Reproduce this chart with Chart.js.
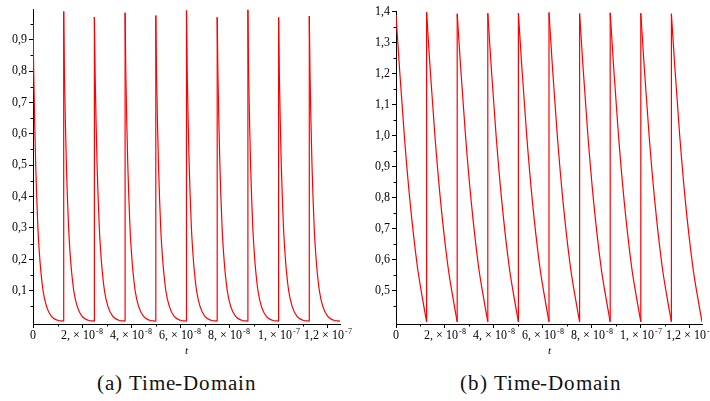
<!DOCTYPE html>
<html>
<head>
<meta charset="utf-8">
<script src="https://cdn.jsdelivr.net/npm/chart.js@4.4.0/dist/chart.umd.min.js"></script>
<style>
  @font-face { font-family: 'PlotSerif'; src: local('Liberation Serif'), local('LiberationSerif'), local('Liberation Serif Regular'); font-style: normal; }
  @font-face { font-family: 'PlotSerif'; src: local('Liberation Serif Italic'), local('LiberationSerif-Italic'); font-style: italic; }
  html, body { margin: 0; padding: 0; background: #fff; overflow: hidden; width: 710px; height: 401px; }
  .box { position: absolute; top: 0; height: 360px; }
  #boxA { left: 0; width: 355px; }
  #boxB { left: 362px; width: 348px; }
  .cap { position: absolute; top: 371px; width: 260px; text-align: center;
         font-family: 'PlotSerif', 'Liberation Serif', 'Times New Roman', serif;
         font-size: 21px; letter-spacing: 0.9px; color: #111; white-space: nowrap; }
</style>
</head>
<body>
<div class="box" id="boxA"><canvas id="chartA"></canvas></div>
<div class="box" id="boxB"><canvas id="chartB"></canvas></div>
<div class="cap" style="left:47px">(a) Time-Domain</div>
<div class="cap" style="left:411px">(b) Time-Domain</div>
<script>
// jump times (s): one every 1.25e-8
const cycleStarts = [0, 1.25e-8, 2.5e-8, 3.75e-8, 5e-8, 6.25e-8, 7.5e-8, 8.75e-8, 1e-7, 1.125e-7];

// (a) peak of each cycle, then the decay read from one cycle
const peaksA = [0.956, 0.99, 0.972, 0.986, 0.977, 0.993, 0.971, 0.995, 0.971, 0.975];
const offsetsA = [0.3e-9, 0.7e-9, 1.1e-9, 1.5e-9, 2.0e-9, 2.6e-9, 3.1e-9, 4.1e-9, 5.5e-9, 7.5e-9, 10e-9, 12.5e-9];
const valuesA = [0.79, 0.63, 0.50, 0.40, 0.30, 0.22, 0.17, 0.10, 0.05, 0.018, 0.006, 0.003];

// (b)
const peaksB = [1.389, 1.398, 1.393, 1.395, 1.395, 1.397, 1.394, 1.396, 1.395, 1.393];
const offsetsB = [1.5e-9, 3.4e-9, 5.7e-9, 8.7e-9, 10.6e-9, 12.5e-9];
const valuesB = [1.21, 1.00, 0.79, 0.58, 0.485, 0.40];

// ticks (x labels: mantissa part + raised exponent)
const xMajor = [0, 2e-8, 4e-8, 6e-8, 8e-8, 1e-7, 1.2e-7];
const xBase = ['0', '2, × 10', '4, × 10', '6, × 10', '8, × 10', '1, × 10', '1,2 × 10'];
const xExp = ['', '-8', '-8', '-8', '-8', '-7', '-7'];
const xMinor = [1e-8, 3e-8, 5e-8, 7e-8, 9e-8, 1.1e-7];

const yMajorA = [0.1, 0.2, 0.3, 0.4, 0.5, 0.6, 0.7, 0.8, 0.9];
const yLabelsA = ['0,1', '0,2', '0,3', '0,4', '0,5', '0,6', '0,7', '0,8', '0,9'];
const yMinorA = [0.05, 0.15, 0.25, 0.35, 0.45, 0.55, 0.65, 0.75, 0.85, 0.95];

const yMajorB = [0.5, 0.6, 0.7, 0.8, 0.9, 1.0, 1.1, 1.2, 1.3, 1.4];
const yLabelsB = ['0,5', '0,6', '0,7', '0,8', '0,9', '1,0', '1,1', '1,2', '1,3', '1,4'];
const yMinorB = [0.45, 0.55, 0.65, 0.75, 0.85, 0.95, 1.05, 1.15, 1.25, 1.35];

const serif = "PlotSerif, 'Liberation Serif', 'Times New Roman', serif";

function buildCurve(peaks, offsets, values) {
    const pts = [];
    cycleStarts.forEach((s, k) => {
        pts.push({x: s, y: peaks[k]});
        offsets.forEach((o, j) => pts.push({x: s + o, y: values[j]}));
        pts.push({x: s + offsets[offsets.length - 1], y: null});
    });
    return pts;
}

function buildJumps(peaks, bottom) {
    const pts = [];
    for (let k = 1; k < cycleStarts.length; k++) {
        pts.push({x: cycleStarts[k], y: bottom}, {x: cycleStarts[k], y: peaks[k]}, {x: cycleStarts[k], y: null});
    }
    return pts;
}

// short minor ticks + x labels with superscript exponent
const axisExtras = {
    id: 'axisExtras',
    afterDraw(chart, args, opts) {
        const {ctx, scales: {x, y}} = chart;
        ctx.save();
        ctx.strokeStyle = '#000';
        ctx.lineWidth = 1;
        ctx.beginPath();
        opts.x.forEach(v => {
            const px = Math.round(x.getPixelForValue(v)) + 0.5;
            ctx.moveTo(px, x.top);
            ctx.lineTo(px, x.top + 2.5);
        });
        opts.y.forEach(v => {
            const py = Math.round(y.getPixelForValue(v)) + 0.5;
            ctx.moveTo(y.right, py);
            ctx.lineTo(y.right - 2.5, py);
        });
        ctx.stroke();

        ctx.fillStyle = '#000';
        ctx.textAlign = 'left';
        ctx.textBaseline = 'alphabetic';
        const baseY = x.top + 15;
        xMajor.forEach((v, i) => {
            ctx.font = '12px ' + serif;
            const wb = ctx.measureText(xBase[i]).width;
            ctx.font = '8px ' + serif;
            const we = xExp[i] ? ctx.measureText(xExp[i]).width + 1 : 0;
            const left = x.getPixelForValue(v) - (wb + we) / 2;
            ctx.font = '12px ' + serif;
            ctx.fillText(xBase[i], left, baseY);
            if (xExp[i]) {
                ctx.font = '8px ' + serif;
                ctx.fillText(xExp[i], left + wb + 1, baseY - 5);
            }
        });
        ctx.restore();
    }
};

function makeChart(id, curve, jumps, yMin, yMax, yMajor, yLabels, yMinor, yWidth, padTop, padRight) {
    const lineStyle = {
        borderColor: '#ff0000',
        borderWidth: 1.2,
        pointRadius: 0,
        spanGaps: false,
        fill: false
    };
    return new Chart(document.getElementById(id).getContext('2d'), {
        type: 'line',
        data: {
            datasets: [
                Object.assign({label: 'curve', data: curve, cubicInterpolationMode: 'monotone'}, lineStyle),
                Object.assign({label: 'jumps', data: jumps, tension: 0}, lineStyle)
            ]
        },
        options: {
            responsive: true,
            maintainAspectRatio: false,
            animation: false,
            layout: {padding: {left: 0, right: padRight, top: padTop, bottom: 0}},
            plugins: {
                legend: {display: false},
                tooltip: {enabled: false},
                axisExtras: {x: xMinor, y: yMinor}
            },
            scales: {
                x: {
                    type: 'linear',
                    min: 0,
                    max: 1.25e-7,
                    afterBuildTicks: s => { s.ticks = xMajor.map(v => ({value: v})); },
                    afterFit: s => { s.height = 36; s.paddingLeft = 0; s.paddingRight = 0; },
                    ticks: {
                        autoSkip: false,
                        maxRotation: 0,
                        padding: 1,
                        color: '#000',
                        font: {family: serif, size: 12},
                        callback: () => ''
                    },
                    grid: {drawOnChartArea: false, tickLength: 4, tickColor: '#000'},
                    border: {display: true, color: '#000', width: 1},
                    title: {
                        display: true,
                        text: 't',
                        color: '#000',
                        padding: {top: 0, bottom: 2},
                        font: {family: serif, size: 11, style: 'italic'}
                    }
                },
                y: {
                    type: 'linear',
                    min: yMin,
                    max: yMax,
                    afterBuildTicks: s => { s.ticks = yMajor.map(v => ({value: v})); },
                    afterFit: s => { s.width = yWidth; },
                    ticks: {
                        autoSkip: false,
                        padding: 2,
                        color: '#000',
                        font: {family: serif, size: 12},
                        callback: (v, i) => yLabels[i]
                    },
                    grid: {drawOnChartArea: false, tickLength: 4, tickColor: '#000'},
                    border: {display: true, color: '#000', width: 1}
                }
            }
        },
        plugins: [axisExtras]
    });
}

function drawAll() {
    makeChart('chartA', buildCurve(peaksA, offsetsA, valuesA), buildJumps(peaksA, valuesA[valuesA.length - 1]),
        -0.006, 0.997, yMajorA, yLabelsA, yMinorA, 33, 5, 15);
    makeChart('chartB', buildCurve(peaksB, offsetsB, valuesB), buildJumps(peaksB, valuesB[valuesB.length - 1]),
        0.393, 1.402, yMajorB, yLabelsB, yMinorB, 34, 11, 8);
}

Promise.all([document.fonts.load('12px PlotSerif'), document.fonts.load('italic 11px PlotSerif')])
    .then(drawAll, drawAll);
</script>
</body>
</html>
